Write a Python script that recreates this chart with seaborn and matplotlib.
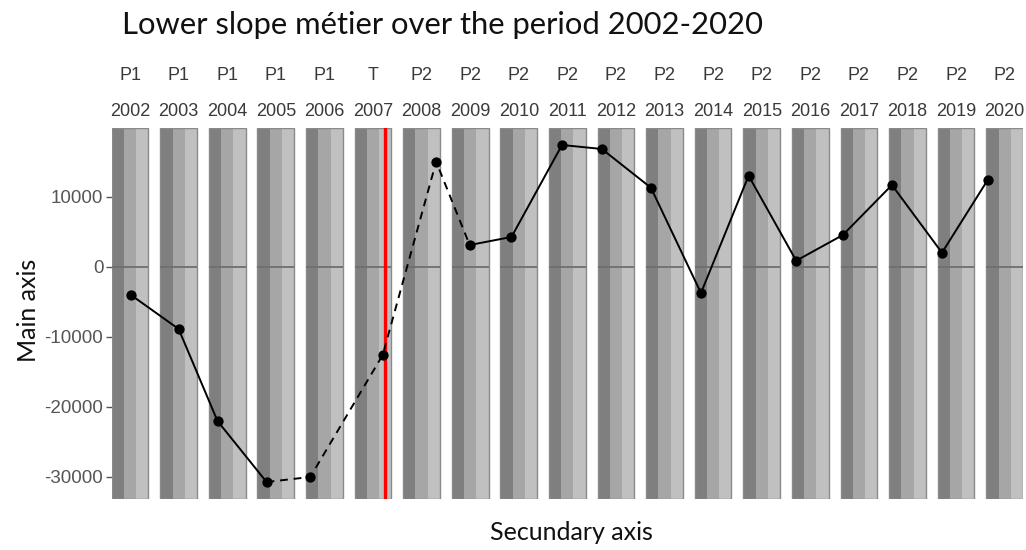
import numpy as np
import pandas as pd
import matplotlib
matplotlib.use("Agg")
import matplotlib.pyplot as plt
import matplotlib.transforms as mtransforms
import seaborn as sns

# ---------------- data ----------------
years = [2002, 2003, 2004, 2005, 2006, 2007, 2008, 2009, 2010, 2011,
         2012, 2013, 2014, 2015, 2016, 2017, 2018, 2019, 2020]
periods = ["P1", "P1", "P1", "P1", "P1", "T", "P2", "P2", "P2", "P2",
           "P2", "P2", "P2", "P2", "P2", "P2", "P2", "P2", "P2"]
values = [-4050, -8900, -22060, -30780, -30060, -12620, 15010, 3100, 4250, 17400,
          16830, 11290, -3760, 13010, 860, 4530, 11680, 2000, 12390]
# horizontal placement of each point inside its yearly panel (fraction of a year slot)
point_offsets = [0.02, 0.00, -0.20, -0.19, -0.29, 0.20, 0.30, -0.01, -0.15, -0.11,
                 -0.29, -0.28, -0.25, -0.27, -0.29, -0.33, -0.32, -0.29, -0.35]
dashed_span = (2005, 2009)          # segment drawn dashed
transition_year = 2007
transition_offset = 0.254
y_ticks = [-30000, -20000, -10000, 0, 10000]
y_limits = (-33210, 19830)

title = "Lower slope métier over the period 2002-2020"
y_label = "Main axis"
x_label = "Secundary axis"

# ---------------- style ----------------
sns.set_style("white")
plt.rcParams["font.family"] = ["Liberation Sans", "DejaVu Sans"]

W, H = 1026, 550
fig = plt.figure(figsize=(W / 100, H / 100), dpi=100)
ax = fig.add_axes([111.7 / W, 1 - 499 / H, (1023 - 111.7) / W, (499 - 128) / H])

half = 0.3775
stripe_cols = ["#7f7f7f", "#a6a6a6", "#c0c0c0"]
n = len(years)
idx = np.arange(n)

for i in idx:
    left = i - half
    w = 2 * half / 3
    for k, c in enumerate(stripe_cols):
        ax.axvspan(left + k * w, left + (k + 1) * w, color=c, lw=0, zorder=0)
    ax.add_patch(plt.Rectangle((left, y_limits[0]), 2 * half, y_limits[1] - y_limits[0],
                               fill=False, ec="#8a8a8a", lw=1.0, zorder=1))
    ax.hlines(0, left, left + 2 * half, color="#6f6f6f", lw=1.3, zorder=1)

df = pd.DataFrame({"year": years, "period": periods, "value": values,
                   "x": idx + np.array(point_offsets)})

d0, d1 = dashed_span
seg1 = df[df.year <= d0]
seg2 = df[(df.year >= d0) & (df.year <= d1)]
seg3 = df[df.year >= d1]
for seg, ls in [(seg1, "-"), (seg2, (0, (4, 3))), (seg3, "-")]:
    sns.lineplot(data=seg, x="x", y="value", ax=ax, color="black", lw=1.4,
                 linestyle=ls, sort=False, estimator=None, zorder=3)
sns.scatterplot(data=df, x="x", y="value", ax=ax, color="black", s=55,
                edgecolor="black", linewidth=0, zorder=4)

ti = years.index(transition_year)
ax.axvline(ti + transition_offset, color="#ff0000", lw=2.4, zorder=2)

ax.set_xlim(-half, n - 1 + half)
ax.set_ylim(*y_limits)
ax.set_yticks(y_ticks)
ax.set_yticklabels([str(t) for t in y_ticks], fontsize=13.5, color="#555555")
ax.tick_params(axis="y", length=4, width=1, color="#555555", pad=2, left=True)
ax.set_xticks([])
ax.set_xlabel("")
ax.set_ylabel("")
for s in ax.spines.values():
    s.set_visible(False)

trans = mtransforms.blended_transform_factory(ax.transData, fig.transFigure)
for i in idx:
    ax.text(i, 1 - 76 / H, periods[i], transform=trans, ha="center", va="center",
            fontsize=13, color="#3a3a3a")
    ax.text(i, 1 - 111 / H, str(years[i]), transform=trans, ha="center", va="center",
            fontsize=13, color="#3a3a3a")

fig.text(122 / W, 1 - 25 / H, title, ha="left", va="center", fontsize=22.3,
         family=["Lato", "DejaVu Sans"], color="#111111")
fig.text(28 / W, 1 - 310 / H, y_label, ha="center", va="center", rotation=90,
         fontsize=18, family=["Lato", "DejaVu Sans"], color="#111111")
fig.text(571 / W, 1 - 533 / H, x_label, ha="center", va="center", fontsize=18,
         family=["Lato", "DejaVu Sans"], color="#111111")

fig.savefig("out.png", dpi=100)
